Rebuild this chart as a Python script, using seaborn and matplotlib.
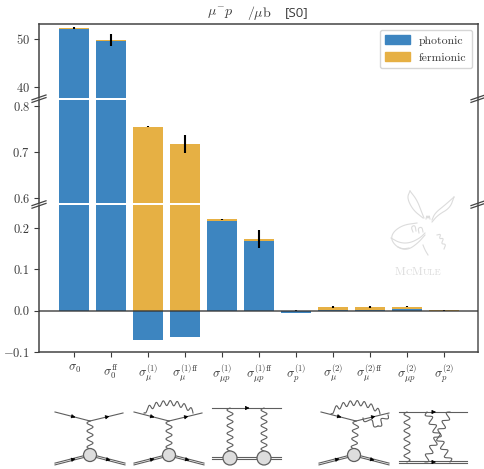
import numpy as np
import pandas as pd
import matplotlib
matplotlib.use('Agg')
import matplotlib.pyplot as plt
import seaborn as sns

labels = [r'$\sigma_0$', r'$\sigma_0^{\mathrm{ff}}$',
          r'$\sigma_\mu^{(1)}$', r'$\sigma_\mu^{(1)\mathrm{ff}}$',
          r'$\sigma_{\mu p}^{(1)}$', r'$\sigma_{\mu p}^{(1)\mathrm{ff}}$',
          r'$\sigma_p^{(1)}$', r'$\sigma_\mu^{(2)}$',
          r'$\sigma_\mu^{(2)\mathrm{ff}}$', r'$\sigma_{\mu p}^{(2)}$',
          r'$\sigma_p^{(2)}$']
photonic = [52.0, 49.5, -0.072, -0.063, 0.218, 0.169, -0.0057, 0.0005, 0.0005, 0.003, 0.0002]
fermionic = [0.26, 0.3, 0.755, 0.717, 0.003, 0.004, 0.0003, 0.0085, 0.0083, 0.0062, 0.0010]
errors = [0.15, 1.3, 0.0015, 0.02, 0.0015, 0.0225, 0.0015, 0.0015, 0.0015, 0.0015, 0.0015]

BLUE = '#3d85c0'
ORANGE = '#e6b044'
INK = '#3a3a3a'
W, H = 485, 469
LEFT, RIGHT = 39, 478

plt.rcParams['font.family'] = ['cmr10', 'DejaVu Serif']
plt.rcParams['mathtext.fontset'] = 'cm'
plt.rcParams['axes.unicode_minus'] = False
plt.rcParams['axes.formatter.use_mathtext'] = True

df = pd.DataFrame({'label': labels, 'photonic': photonic, 'fermionic': fermionic, 'err': errors})
df['base'] = df['photonic'].clip(lower=0)
df['top'] = df['base'] + df['fermionic']

fig = plt.figure(figsize=(W / 100, H / 100), dpi=100)


def panel(y0, y1):
    return fig.add_axes([LEFT / W, 1 - y1 / H, (RIGHT - LEFT) / W, (y1 - y0) / H])


ax1 = panel(24, 98.5)
ax2 = panel(100, 203.5)
ax3 = panel(205, 352)

for ax in (ax1, ax2, ax3):
    sns.barplot(df, x='label', y='top', color=ORANGE, saturation=1, width=0.81, ax=ax, zorder=2)
    sns.barplot(df, x='label', y='photonic', color=BLUE, saturation=1, width=0.81, ax=ax, zorder=3)
    ax.errorbar(df.index, df['top'], yerr=df['err'], fmt='none', ecolor='black', elinewidth=1.5, zorder=4)
    ax.set_xlim(-0.95, 10.92)
    ax.set_xlabel('')
    ax.set_ylabel('')
    ax.tick_params(axis='y', labelsize=9, length=3.5, width=0.8, colors=INK, pad=3)
    for s in ax.spines.values():
        s.set_color('#444444')
        s.set_linewidth(1.1)
    ax.spines['right'].set_color('#777777')
    ax.spines['right'].set_linewidth(1.4)

ax1.set_ylim(37.7, 53.1)
ax1.set_yticks([40, 50])
ax2.set_ylim(0.5886, 0.8128)
ax2.set_yticks([0.6, 0.7, 0.8])
ax3.set_ylim(-0.1, 0.2555)
ax3.set_yticks([-0.1, 0.0, 0.1, 0.2])
ax3.set_yticklabels([r'$-0.1$', '0.0', '0.1', '0.2'])

for ax in (ax1, ax2):
    ax.tick_params(axis='x', bottom=False, labelbottom=False)
    ax.spines['bottom'].set_visible(False)
for ax in (ax2, ax3):
    ax.spines['top'].set_visible(False)

ax3.axhline(0, color='#333333', lw=1.2, alpha=0.8, zorder=5)
ax3.tick_params(axis='x', labelsize=9, length=3.5, width=0.8, colors=INK, pad=4)

handles = [plt.Rectangle((0, 0), 1, 1, color=BLUE), plt.Rectangle((0, 0), 1, 1, color=ORANGE)]
ax1.legend(handles, ['photonic', 'fermionic'], loc='upper right', fontsize=8.5,
           handlelength=2.1, handleheight=0.75, borderaxespad=0.5, labelcolor=INK,
           handletextpad=0.8, labelspacing=0.55, borderpad=0.45)

# overlay in pixel coordinates for break marks, logo and diagrams
ov = fig.add_axes([0, 0, 1, 1], zorder=10)
ov.set_xlim(0, W)
ov.set_ylim(H, 0)
ov.axis('off')
ov.patch.set_alpha(0)

for x in (39, 478):
    for y in (98.7, 204.5):
        for d in (-1.3, 1.3):
            ov.plot([x - 7, x + 7], [y + d + 2.4, y + d - 2.4], color='#444444', lw=0.9, clip_on=False)

ov.text(220.5, 13, r'$\mu^{-}p$', ha='center', va='center', fontsize=10, color=INK)
ov.text(259, 13, r'$/\mathrm{\mu b}$', ha='center', va='center', fontsize=10, color=INK)
ov.text(297, 13, '[S0]', ha='center', va='center', fontsize=9.5, color=INK, family=['Open Sans'])

LG = '#dcdcdc'


def smooth(pts, rounds=3):
    p = np.array(pts, dtype=float)
    for _ in range(rounds):
        q = 0.75 * p[:-1] + 0.25 * p[1:]
        r = 0.25 * p[:-1] + 0.75 * p[1:]
        p = np.vstack([p[0], np.column_stack([q, r]).reshape(-1, 2), p[-1]])
    return p


logo = [
    [(410, 191), (407, 198), (413, 210), (423, 218)],
    [(410, 191), (417, 200), (422, 213), (424, 218)],
    [(454, 197), (450, 208), (438, 215), (432, 222)],
    [(454, 197), (445, 205), (435, 213), (432, 220)],
    [(417, 223), (403, 225), (393, 232), (391, 240), (398, 248), (408, 250), (418, 243), (425, 235)],
    [(391, 238), (400, 243), (410, 243), (420, 238), (425, 233)],
    [(413, 232), (411, 227), (415, 225), (416, 231)],
    [(419, 233), (418, 228), (422, 227), (423, 232)],
    [(423, 245), (425, 250), (428, 255)],
    [(426, 219), (427, 215), (428, 219), (429, 215), (430, 219)],
    [(437, 235), (441, 234), (439, 239), (444, 238), (441, 244), (446, 244), (444, 249)],
    [(398, 247), (403, 249), (409, 248)],
]
for pts in logo:
    xy = smooth(pts)
    ov.plot(xy[:, 0], xy[:, 1], color=LG, lw=0.8)
for x, s, size in [(395, 'M', 8.5), (405.5, 'C', 6.5), (412, 'M', 8.5), (422.5, 'ULE', 6.5)]:
    ov.text(x, 275, s, ha='left', va='baseline', fontsize=size, color=LG)

LINE = '#5e5e5e'


def line(x0, y0, x1, y1, double=False, arrow=True):
    offs = (-0.9, 0.9) if double else (0,)
    for o in offs:
        ov.plot([x0, x1], [y0 + o, y1 + o], color=LINE, lw=0.8)
    if arrow:
        xm, ym = (x0 + x1) / 2, (y0 + y1) / 2
        s = (y1 - y0) / (x1 - x0)
        ov.annotate('', xy=(xm + 3, ym + 3 * s), xytext=(xm - 2, ym - 2 * s),
                    arrowprops=dict(arrowstyle='-|>', color='black', lw=0.5, mutation_scale=6))


def wiggle(x0, y0, x1, y1, n=5, amp=3):
    t = np.linspace(0, 1, 160)
    dx, dy = x1 - x0, y1 - y0
    L = np.hypot(dx, dy)
    s = amp * np.sin(2 * np.pi * n * t)
    ov.plot(x0 + dx * t - dy / L * s, y0 + dy * t + dx / L * s, color=LINE, lw=0.8)


def arc_wiggle(x0, x1, y, rise, n=7, amp=2.5):
    t = np.linspace(0, 1, 240)
    xs = x0 + (x1 - x0) * t
    ys = y - rise * np.sin(np.pi * t) ** 0.6 + amp * np.sin(2 * np.pi * n * t)
    ov.plot(xs, ys, color=LINE, lw=0.8)


def blob(x, y, r=6.5):
    ov.add_patch(plt.Circle((x, y), r, fc='#dddddd', ec=LINE, lw=0.9, zorder=5))


def tchannel(xc, blob_x=None):
    bx = xc if blob_x is None else blob_x
    line(xc - 35, 412, xc, 421)
    line(xc, 421, xc + 33, 413)
    wiggle(xc, 421, bx, 449, n=3.5)
    line(bx - 35, 464, bx, 455, double=True)
    line(bx, 455, bx + 35, 464, double=True)
    blob(bx, 455)


tchannel(90)
tchannel(169)
arc_wiggle(144, 193, 413, 10)
tchannel(356, blob_x=354)
arc_wiggle(331, 380, 414, 11)
wiggle(363, 418, 378, 426, n=1.5, amp=2.5)
wiggle(378, 426, 388, 415, n=1.5, amp=2.5)

# two-photon box
line(212, 408, 281, 408)
wiggle(230, 408, 230, 451, n=5.5)
wiggle(264, 408, 264, 451, n=5.5)
line(212, 458, 281, 458, double=True, arrow=False)
blob(230, 458, 7)
blob(264, 458, 7)

# two-loop box
line(399, 412, 467, 412)
line(399, 462, 467, 462, double=True)
wiggle(407, 412, 407, 462, n=6)
wiggle(427, 412, 450, 462, n=6)
wiggle(450, 412, 425, 462, n=6)

fig.savefig('out.png', dpi=100)
